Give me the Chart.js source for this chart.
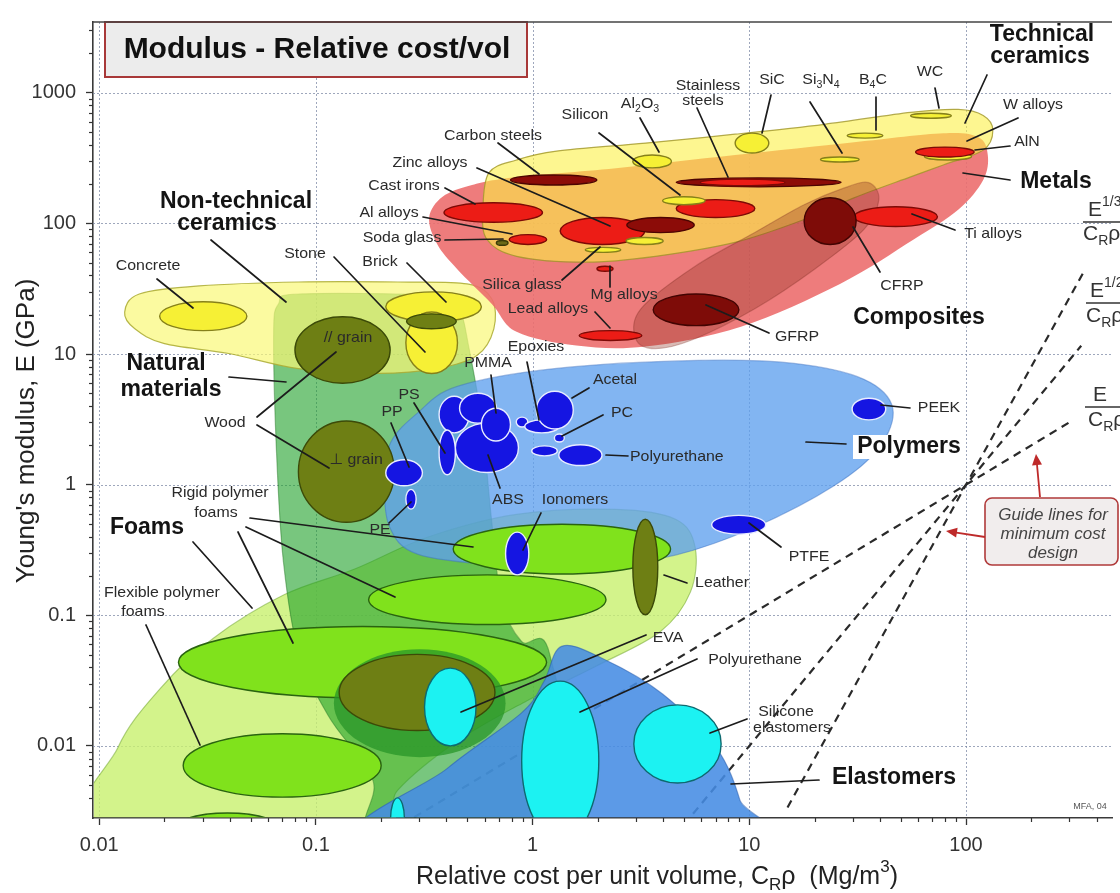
<!DOCTYPE html>
<html>
<head>
<meta charset="utf-8">
<script src="https://cdn.jsdelivr.net/npm/chart.js@4.4.0/dist/chart.umd.min.js"></script>
<style>
  html, body { margin: 0; padding: 0; background: #fff; overflow: hidden; }
  #wrap { width: 1120px; height: 893px; }
</style>
</head>
<body>
<div id="wrap"><canvas id="c" width="1120" height="893"></canvas></div>
<script>
// ---------- axis ranges and tick labels ----------
const costMin = 0.009358, costMax = 471.6;     // relative cost per unit volume
const modMin = 0.002805, modMax = 3483;        // Young's modulus, GPa
const xTickLabels = ['0.01', '0.1', '1', '10', '100'];
const yTickLabels = ['0.01', '0.1', '1', '10', '100', '1000'];

// ---------- material property ranges ----------
const materialNames = [
  'Flexible polymer foam (soft)', 'Flexible polymer foam', 'Rigid polymer foam (low density)',
  'Rigid polymer foam (medium density)', 'Rigid polymer foam (high density)', 'Cork field', 'Cork',
  'EVA', 'Polyurethane elastomer', 'Silicone elastomers', 'Butyl rubber', 'Leather', 'Ionomers',
  'Wood, perpendicular to grain', 'Wood, parallel to grain', 'Concrete', 'Brick', 'Stone', 'Bamboo',
  'PP', 'PE', 'PMMA (cast)', 'PET', 'ABS', 'PMMA', 'PS', 'Polyester', 'Epoxies', 'Acetal', 'PC',
  'Nylon', 'Polyurethane', 'PEEK', 'PTFE',
  'Cast irons', 'Carbon steels', 'Al alloys', 'Soda glass', 'Zinc alloys', 'Brass', 'Glass ceramic',
  'Silica glass', 'Mg alloys', 'Lead alloys', 'Stainless steels', 'Low alloy steels', 'Cu alloys',
  'Silicon', 'Al2O3', 'SiC', 'Si3N4', 'B4C', 'WC', 'AlN', 'W alloys', 'Ti alloys', 'GFRP', 'CFRP'
];
const costLow = [
  0.0213, 0.0244, 0.0232, 0.175, 0.43, 0.121, 0.128,
  0.317, 0.89, 2.93, 0.221, 2.9, 0.75,
  0.083, 0.08, 0.019, 0.21, 0.26, 0.262,
  0.21, 0.26, 0.37, 0.46, 0.44, 0.58, 0.37, 0.84, 0.92, 1.04, 1.26,
  0.99, 1.32, 29.8, 6.7,
  0.39, 0.79, 0.78, 0.68, 1.34, 2.72, 2.7,
  1.75, 1.98, 1.64, 4.6, 5.94, 4.6,
  3.98, 2.9, 8.6, 21.3, 28.3, 55.5, 64.3, 58.5, 30.4, 3.6, 17.9
];
const costHigh = [
  0.0716, 0.20, 1.16, 2.18, 4.33, 0.75, 0.67,
  0.548, 2.02, 7.41, 0.256, 3.78, 0.96,
  0.23, 0.22, 0.048, 0.58, 0.45, 0.444,
  0.31, 0.29, 0.51, 0.68, 0.86, 0.79, 0.44, 0.95, 1.32, 1.54, 1.40,
  1.30, 2.09, 42.6, 11.9,
  1.11, 1.98, 1.16, 0.77, 3.29, 5.57, 4.0,
  2.55, 2.35, 3.19, 26.5, 14.6, 10.6,
  6.25, 4.37, 12.3, 32.1, 41.3, 85.5, 106, 109, 73.8, 8.95, 31.1
];
const modLow = [
  0.0016, 0.00405, 0.0233, 0.085, 0.207, 0.0082, 0.0131,
  0.010, 0.0019, 0.0052, 0.0019, 0.101, 0.204,
  0.515, 5.97, 15.1, 17.7, 7.1, 15.6,
  0.98, 0.65, 2.49, 2.96, 1.24, 2.16, 1.19, 2.76, 2.49, 2.67, 2.12,
  1.66, 1.40, 3.13, 0.418,
  102, 197, 69, 68, 69, 85, 69,
  60, 43, 12.7, 191, 194, 111,
  139, 266, 346, 295, 450, 638, 306, 322, 94.6, 16.5, 69
];
const modHigh = [
  0.00306, 0.0124, 0.082, 0.204, 0.498, 0.055, 0.0502,
  0.0394, 0.0313, 0.0206, 0.0040, 0.543, 0.433,
  3.07, 19.3, 25.1, 29.9, 21.0, 20.3,
  1.55, 0.92, 4.75, 5.01, 2.96, 3.85, 2.62, 3.29, 3.13, 5.19, 2.44,
  1.98, 2.02, 4.59, 0.582,
  144, 235, 82, 74, 111, 111, 78,
  65.6, 47, 15.1, 223, 219, 152,
  160, 334, 491, 322, 491, 697, 346, 384, 134, 28.8, 157
];
const materialFamily = [
  'foam', 'foam', 'foam', 'foam', 'foam', 'field', 'natural',
  'elastomer', 'elastomer', 'elastomer', 'elastomer', 'natural', 'polymer',
  'natural', 'natural', 'ceramic', 'ceramic', 'ceramic', 'natural',
  'polymer', 'polymer', 'polymer', 'polymer', 'polymer', 'polymer', 'polymer', 'polymer', 'polymer', 'polymer', 'polymer',
  'polymer', 'polymer', 'polymer', 'polymer',
  'metal', 'metalDark', 'metal', 'glassDark', 'metal', 'metalDark', 'ceramic',
  'ceramic', 'metal', 'metal', 'metalDark', 'metal', 'metal',
  'ceramic', 'ceramic', 'ceramic', 'ceramic', 'ceramic', 'ceramic', 'ceramic', 'metal', 'metal', 'composite', 'composite'
];

// ---------- family envelopes (cost, modulus) ----------
const foamEnvelope = [[0.00966,0.0022],[0.0122,0.0097],[0.0192,0.0277],[0.0335,0.0665],[0.0716,0.144],[0.151,0.226],
  [0.327,0.396],[0.843,0.592],[2.42,0.646],[4.56,0.543],[5.62,0.333],[5.35,0.151],[3.89,0.0752],[1.96,0.0407],
  [0.938,0.0221],[0.449,0.0109],[0.238,0.00456],[0.174,0.0019]];
const naturalEnvelope = [[0.0638,14.3],[0.0672,24.2],[0.083,28.8],[0.363,27.9],[0.458,22.2],[0.509,11.0],[0.583,2.96],
  [0.648,0.515],[0.72,0.127],[0.889,0.063],[1.2,0.05],[1.45,0.0019],[0.193,0.0019],[0.183,0.00547],
  [0.114,0.017],[0.083,0.053],[0.0708,0.256],[0.0658,1.75]];
const polymerEnvelope = [[0.207,1.03],[0.221,2.09],[0.294,3.53],[0.449,5.65],[1.29,7.76],[5.81,8.93],[16.1,8.47],
  [33.8,6.4],[45.9,3.85],[39.6,1.91],[24.7,0.984],[10.6,0.472],[4.56,0.289],[1.96,0.238],[0.684,0.243],[0.294,0.294],[0.219,0.472]];
const nonTechCeramicEnvelope = [[0.0131,20.9],[0.0153,28.8],[0.0289,33.2],[0.083,35.6],[0.238,35.6],[0.498,34.4],
  [0.648,26.4],[0.662,15.6],[0.553,9.73],[0.363,7.74],[0.193,7.11],[0.083,7.74],[0.0396,10.1],[0.02,12.0],[0.0146,15.6]];
const elastomerEnvelope = [[0.177,0.0019],[0.404,0.00673],[0.889,0.0179],[1.13,0.0313],[1.36,0.0578],[2.09,0.0469],
  [3.98,0.025],[7.03,0.0097],[9.05,0.00384],[9.53,0.0019]];
const metalEnvelope = [[0.333,111],[0.384,160],[0.525,197],[0.843,227],[2.42,265],[8.59,334],[30.4,419],[78.5,491],
  [114,457],[126,334],[120,215],[92,127],[57.3,75.3],[26.2,34.4],[9.14,16.2],[3.32,11.4],[1.59,11.6],[0.843,14.8],
  [0.648,24.2],[0.449,44.6],[0.363,69.2]];
const techCeramicEnvelope = [[0.59,128],[0.628,244],[0.843,306],[1.29,358],[3.32,412],[8.59,482],[22.2,574],[55.5,708],
  [92,746],[120,671],[133,517],[120,364],[78.5,280],[55.5,227],[30.4,157],[17.9,107],[8.59,71.6],[3.69,56],[1.77,50.5],
  [0.843,56],[0.615,75.5]];
const compositeEnvelope = [[2.99,13.1],[3.16,22.2],[5.62,47],[10.6,85.3],[17.9,139],[27.4,187],[35.6,205],[39.6,152],
  [33.8,89.9],[20,44.6],[10.6,22.2],[5.62,13.1],[3.69,11.0]];

// ---------- guide lines for minimum cost design (E/CRρ, E^1/2/CRρ, E^1/3/CRρ constant) ----------
const guideCostE1 = [0.25, 300];   const guideModE1 = [0.0025, 3.0];
const guideCostE2 = [5, 340];      const guideModE2 = [0.0025, 11.56];
const guideCostE3 = [15, 355];     const guideModE3 = [0.003375, 44.74];

// ---------- annotation text ----------
const materialLabels = [
  ['Carbon steels',493,136], ['Zinc alloys',430,163], ['Cast irons',404,186], ['Al alloys',389,213],
  ['Soda glass',402,238], ['Stone',305,254], ['Brick',380,262], ['Concrete',148,266], ['Silica glass',522,285],
  ['Mg alloys',624,295], ['Lead alloys',548,309], ['Silicon',585,115], ['Al_{2}O_{3}',640,104],
  ['Stainless',708,86], ['steels',703,101], ['SiC',772,80], ['Si_{3}N_{4}',821,80], ['B_{4}C',873,80],
  ['WC',930,72], ['W alloys',1033,105], ['AlN',1027,142], ['Ti alloys',993,234], ['CFRP',902,286],
  ['GFRP',797,337], ['// grain',348,338], ['\u22a5 grain',356,460], ['Wood',225,423], ['PMMA',488,363],
  ['Epoxies',536,347], ['PS',409,395], ['PP',392,412], ['Acetal',615,380], ['PC',622,413],
  ['Polyurethane',630,457,'left'], ['ABS',508,500], ['Ionomers',575,500], ['PE',380,530], ['PEEK',939,408],
  ['PTFE',809,557], ['Leather',722,583], ['Rigid polymer',220,493], ['foams',216,513],
  ['Flexible polymer',162,593], ['foams',143,612], ['EVA',668,638], ['Polyurethane',755,660],
  ['Silicone',786,712], ['elastomers',792,728]
];
const familyLabels = [
  ['Technical',1042,35], ['ceramics',1040,57], ['Non-technical',236,202], ['ceramics',227,224],
  ['Natural',166,364], ['materials',171,390], ['Metals',1056,182], ['Composites',919,318],
  ['Polymers',909,447], ['Foams',147,528], ['Elastomers',894,778]
];
const leaderLines = [
  [498,143,539,174],[477,168,610,226],[445,188,475,204],[423,217,512,234],[445,240,503,239],
  [334,257,425,352],[407,263,446,302],[157,279,193,308],[211,240,286,302],[562,280,600,247],
  [610,287,610,266],[595,312,610,328],[599,133,680,195],[640,118,659,152],[697,108,728,177],
  [771,95,762,133],[810,102,842,153],[876,97,876,130],[935,88,939,108],[987,75,965,123],
  [1018,118,967,141],[1010,146,975,150],[1010,180,963,173],[955,230,912,214],[880,272,853,227],
  [769,333,706,305],[257,417,336,352],[257,425,329,468],[229,377,286,382],[491,375,496,413],
  [527,362,539,420],[414,403,445,453],[391,423,409,467],[500,488,488,455],[389,523,411,502],
  [541,513,523,550],[589,388,572,398],[603,415,562,436],[606,455,628,456],[806,442,846,444],
  [881,405,910,408],[749,523,781,547],[664,575,687,583],[250,518,473,547],[246,527,395,597],
  [238,532,293,643],[193,542,252,608],[146,625,200,745],[646,635,461,712],[697,659,580,712],
  [747,719,710,733],[731,784,819,780]
];

// ---------- styles ----------
const FONT = '"Liberation Sans", Arial, Helvetica, "DejaVu Sans", sans-serif';
const envelopeStyle = {
  foam:      { fill: 'rgba(200,240,110,0.80)', stroke: 'rgba(120,170,60,0.55)' },
  natural:   { fill: 'rgba(30,160,40,0.60)',   stroke: 'rgba(40,120,40,0.45)' },
  polymer:   { fill: 'rgba(95,160,238,0.78)',  stroke: 'rgba(60,110,190,0.45)' },
  nontech:   { fill: 'rgba(250,248,120,0.70)', stroke: 'rgba(170,170,50,0.85)' },
  elastomer: { fill: 'rgba(70,140,228,0.88)',  stroke: 'rgba(40,90,170,0.5)' },
  metal:     { fill: 'rgba(236,110,110,0.90)', stroke: null },
  tech:      { fill: 'rgba(252,240,70,0.60)',  stroke: 'rgba(160,150,40,0.8)' },
  composite: { fill: 'rgba(140,45,30,0.33)',   stroke: 'rgba(120,40,30,0.3)' }
};
const envelopeLayers = [
  [foamEnvelope, 'foam'], [naturalEnvelope, 'natural'], [polymerEnvelope, 'polymer'],
  [nonTechCeramicEnvelope, 'nontech'], [elastomerEnvelope, 'elastomer'], [metalEnvelope, 'metal'],
  [techCeramicEnvelope, 'tech'], [compositeEnvelope, 'composite']
];
const familyStyle = {
  metal:     ['#ec1c16', '#7c0a06'],
  metalDark: ['#8c0c08', '#4c0402'],
  ceramic:   ['#f6f035', '#86801a'],
  glassDark: ['#6a6a18', '#3a3a08'],
  natural:   ['#6e7f14', '#3c4a08'],
  field:     ['rgba(40,150,40,0.75)', null],
  polymer:   ['#1515e2', '#e8ecff'],
  foam:      ['#80e21c', '#2a6410'],
  elastomer: ['#1cf2f2', '#0e6a70'],
  composite: ['#7e0c08', '#420402']
};

// ---------- helpers ----------
function isDecade(v) { const l = Math.log10(v); return Math.abs(l - Math.round(l)) < 1e-6; }
function isNice(v) {
  const e = Math.floor(Math.log10(v) + 1e-9); const m = v / Math.pow(10, e);
  return Math.abs(m - Math.round(m)) < 1e-6;
}
function labelFor(list, v) {
  for (const l of list) if (Math.abs(Number(l) / v - 1) < 1e-6) return l;
  return '';
}
function smoothClosed(ctx, pts) {
  const n = pts.length;
  ctx.moveTo(pts[0][0], pts[0][1]);
  for (let i = 0; i < n; i++) {
    const p0 = pts[(i - 1 + n) % n], p1 = pts[i], p2 = pts[(i + 1) % n], p3 = pts[(i + 2) % n];
    ctx.bezierCurveTo(p1[0] + (p2[0] - p0[0]) / 6, p1[1] + (p2[1] - p0[1]) / 6,
                      p2[0] - (p3[0] - p1[0]) / 6, p2[1] - (p3[1] - p1[1]) / 6, p2[0], p2[1]);
  }
  ctx.closePath();
}
function parseRich(s) {
  const parts = []; const re = /_\{([^}]*)\}|\^\{([^}]*)\}|([^_^]+)/g; let m;
  while ((m = re.exec(s))) {
    if (m[1] !== undefined) parts.push([m[1], 'sub']);
    else if (m[2] !== undefined) parts.push([m[2], 'sup']);
    else parts.push([m[3], '']);
  }
  return parts;
}
function drawRich(ctx, s, x, y, opt) {
  const parts = parseRich(s);
  const fontFor = mode => `${opt.style || 'normal'} ${opt.weight || 'normal'} ${mode ? Math.round(opt.size * 0.68) : opt.size}px ${FONT}`;
  let w = 0;
  for (const [t, m] of parts) { ctx.font = fontFor(m); w += ctx.measureText(t).width; }
  const st = opt.stretch || 1;
  ctx.save();
  ctx.translate(x, y); ctx.scale(st, 1);
  let cx = opt.align === 'left' ? 0 : opt.align === 'right' ? -w : -w / 2;
  ctx.textBaseline = 'middle'; ctx.textAlign = 'left'; ctx.fillStyle = opt.color || '#222';
  for (const [t, m] of parts) {
    ctx.font = fontFor(m);
    const dy = m === 'sub' ? opt.size * 0.32 : m === 'sup' ? -opt.size * 0.38 : 0;
    ctx.fillText(t, cx, dy);
    cx += ctx.measureText(t).width;
  }
  ctx.restore();
  return w * st;
}
function arrow(ctx, x1, y1, x2, y2) {
  const ang = Math.atan2(y2 - y1, x2 - x1), L = 11, W = 5;
  ctx.beginPath(); ctx.moveTo(x1, y1); ctx.lineTo(x2 - Math.cos(ang) * L * 0.8, y2 - Math.sin(ang) * L * 0.8); ctx.stroke();
  ctx.beginPath();
  ctx.moveTo(x2, y2);
  ctx.lineTo(x2 - Math.cos(ang) * L + Math.sin(ang) * W, y2 - Math.sin(ang) * L - Math.cos(ang) * W);
  ctx.lineTo(x2 - Math.cos(ang) * L - Math.sin(ang) * W, y2 - Math.sin(ang) * L + Math.cos(ang) * W);
  ctx.closePath(); ctx.fill();
}
function fraction(ctx, num, den, xNum, yNum, xBar1, xBar2, yBar, xDen, yDen) {
  drawRich(ctx, num, xNum, yNum, { size: 21, align: 'left', color: '#333' });
  ctx.save(); ctx.strokeStyle = '#333'; ctx.lineWidth = 1.5;
  ctx.beginPath(); ctx.moveTo(xBar1, yBar); ctx.lineTo(xBar2, yBar); ctx.stroke(); ctx.restore();
  drawRich(ctx, den, xDen, yDen, { size: 21, align: 'left', color: '#333' });
}

// ---------- drawing plugin ----------
const ashbyPlugin = {
  id: 'ashbyChart',
  beforeDatasetsDraw(chart) {
    const { ctx, chartArea: a, scales: { x, y } } = chart;
    ctx.save();
    ctx.strokeStyle = 'rgba(125,138,165,0.75)';
    ctx.lineWidth = 1;
    ctx.setLineDash([2, 2]);
    xTickLabels.forEach(l => {
      const p = Math.round(x.getPixelForValue(Number(l))) + 0.5;
      ctx.beginPath(); ctx.moveTo(p, a.top); ctx.lineTo(p, a.bottom); ctx.stroke();
    });
    yTickLabels.forEach(l => {
      const p = Math.round(y.getPixelForValue(Number(l))) + 0.5;
      ctx.beginPath(); ctx.moveTo(a.left, p); ctx.lineTo(a.right, p); ctx.stroke();
    });
    ctx.restore();
  },
  afterDatasetsDraw(chart) {
    const { ctx, chartArea: a, scales: { x, y } } = chart;
    const X = v => x.getPixelForValue(v), Y = v => y.getPixelForValue(v);

    ctx.save();
    ctx.beginPath(); ctx.rect(a.left + 0.8, a.top, a.right - a.left, a.bottom - a.top - 0.8); ctx.clip();

    // family envelopes
    envelopeLayers.forEach(([pts, key]) => {
      const st = envelopeStyle[key];
      ctx.beginPath();
      smoothClosed(ctx, pts.map(p => [X(p[0]), Y(p[1])]));
      ctx.fillStyle = st.fill; ctx.fill();
      if (st.stroke) { ctx.lineWidth = 1.2; ctx.strokeStyle = st.stroke; ctx.stroke(); }
    });

    // material property ellipses
    materialNames.forEach((name, i) => {
      const x1 = X(costLow[i]), x2 = X(costHigh[i]), y1 = Y(modHigh[i]), y2 = Y(modLow[i]);
      const [fill, stroke] = familyStyle[materialFamily[i]];
      ctx.beginPath();
      ctx.ellipse((x1 + x2) / 2, (y1 + y2) / 2, (x2 - x1) / 2, (y2 - y1) / 2, 0, 0, Math.PI * 2);
      ctx.fillStyle = fill; ctx.fill();
      if (stroke) { ctx.lineWidth = 1.4; ctx.strokeStyle = stroke; ctx.stroke(); }
    });
    ctx.restore();

    // leader lines
    ctx.save();
    ctx.strokeStyle = '#1c1c1c'; ctx.lineWidth = 1.7; ctx.lineCap = 'round';
    leaderLines.forEach(([x1, y1, x2, y2]) => { ctx.beginPath(); ctx.moveTo(x1, y1); ctx.lineTo(x2, y2); ctx.stroke(); });
    ctx.restore();

    // white patch behind the polymer family name
    ctx.fillStyle = '#ffffff';
    ctx.fillRect(853, 435, 112, 24);

    // labels
    materialLabels.forEach(([t, lx, ly, al]) => drawRich(ctx, t, lx, ly, { size: 15, align: al || 'center', color: '#2a2a2a', stretch: 1.06 }));
    familyLabels.forEach(([t, lx, ly]) => drawRich(ctx, t, lx, ly, { size: 23, weight: 'bold', align: 'center', color: '#141414' }));
    drawRich(ctx, 'MFA, 04', 1090, 807, { size: 9, align: 'center', color: '#555' });

    // guide-line labels
    fraction(ctx, 'E^{1/3}', 'C_{R}\u03c1', 1088, 210, 1083, 1125, 222, 1083, 234);
    fraction(ctx, 'E^{1/2}', 'C_{R}\u03c1', 1090, 291, 1086, 1125, 303, 1086, 316);
    fraction(ctx, 'E', 'C_{R}\u03c1', 1093, 395, 1085, 1125, 407, 1088, 420);

    // guide-line note with arrows
    ctx.save();
    ctx.fillStyle = '#f1eded'; ctx.strokeStyle = '#b03a3a'; ctx.lineWidth = 1.6;
    ctx.beginPath(); ctx.roundRect(985, 498, 133, 67, 7); ctx.fill(); ctx.stroke();
    ctx.strokeStyle = '#be2a2a'; ctx.fillStyle = '#be2a2a'; ctx.lineWidth = 1.8;
    arrow(ctx, 1040, 497, 1036, 454);
    arrow(ctx, 985, 537, 946, 531);
    ctx.restore();
    ['Guide lines for', 'minimum cost', 'design'].forEach((t, k) =>
      drawRich(ctx, t, 1053, 515 + k * 19, { size: 17, style: 'italic', align: 'center', color: '#444' }));

    // chart title box
    ctx.save();
    ctx.fillStyle = '#ececec'; ctx.fillRect(105, 22, 422, 55);
    ctx.strokeStyle = '#a83838'; ctx.lineWidth = 2; ctx.strokeRect(105, 22, 422, 55);
    ctx.restore();
    drawRich(ctx, 'Modulus - Relative cost/vol', 317, 50, { size: 30, weight: 'bold', align: 'center', color: '#111' });
  },
  afterDraw(chart) {
    const { ctx, chartArea: a, scales: { x, y } } = chart;
    ctx.save();
    // top frame line
    ctx.strokeStyle = '#444'; ctx.lineWidth = 1.5;
    ctx.beginPath(); ctx.moveTo(a.left, a.top); ctx.lineTo(a.right, a.top); ctx.stroke();
    // short minor tick marks
    ctx.lineWidth = 1.2; ctx.strokeStyle = '#333';
    x.ticks.forEach(t => {
      if (isNice(t.value) && !isDecade(t.value)) {
        const p = Math.round(x.getPixelForValue(t.value)) + 0.5;
        ctx.beginPath(); ctx.moveTo(p, a.bottom); ctx.lineTo(p, a.bottom + 4); ctx.stroke();
      }
    });
    y.ticks.forEach(t => {
      if (isNice(t.value) && !isDecade(t.value)) {
        const p = Math.round(y.getPixelForValue(t.value)) + 0.5;
        ctx.beginPath(); ctx.moveTo(a.left, p); ctx.lineTo(a.left - 4, p); ctx.stroke();
      }
    });
    ctx.restore();
    // axis titles
    drawRich(ctx, 'Relative cost per unit volume, C_{R}\u03c1  (Mg/m^{3})', 657, 877, { size: 25, align: 'center', color: '#222' });
    ctx.save();
    ctx.translate(27, 431); ctx.rotate(-Math.PI / 2);
    drawRich(ctx, "Young's modulus, E (GPa)", 0, 0, { size: 26, align: 'center', color: '#222' });
    ctx.restore();
  }
};

// ---------- chart ----------
const guideStyle = { showLine: true, pointRadius: 0, borderColor: '#2a2a2a', borderWidth: 2.2, borderDash: [8, 6], fill: false };
const toPoints = (cs, ms) => cs.map((c, i) => ({ x: c, y: ms[i] }));
const tickColor = ctx => (ctx.tick && isDecade(ctx.tick.value)) ? '#333' : 'rgba(0,0,0,0)';

new Chart(document.getElementById('c'), {
  type: 'scatter',
  data: {
    datasets: [
      Object.assign({ label: 'E / CR\u03c1', data: toPoints(guideCostE1, guideModE1) }, guideStyle),
      Object.assign({ label: 'E^1/2 / CR\u03c1', data: toPoints(guideCostE2, guideModE2) }, guideStyle),
      Object.assign({ label: 'E^1/3 / CR\u03c1', data: toPoints(guideCostE3, guideModE3) }, guideStyle)
    ]
  },
  options: {
    responsive: false,
    animation: false,
    devicePixelRatio: 1,
    layout: { padding: { top: 16, right: 0, left: 0, bottom: 0 } },
    plugins: { legend: { display: false }, tooltip: { enabled: false } },
    scales: {
      x: {
        type: 'logarithmic', position: 'bottom', min: costMin, max: costMax,
        afterFit: s => { s.height = 75; },
        grid: { drawOnChartArea: false, drawTicks: true, tickLength: 7, tickColor: tickColor, tickWidth: 1.3 },
        border: { display: true, color: '#3a3a3a', width: 1.6 },
        ticks: { autoSkip: false, maxRotation: 0, minRotation: 0, padding: 8, color: '#333',
                 font: { size: 20, family: FONT }, callback: v => labelFor(xTickLabels, v) }
      },
      y: {
        type: 'logarithmic', position: 'left', min: modMin, max: modMax,
        afterFit: s => { s.width = 93; },
        grid: { drawOnChartArea: false, drawTicks: true, tickLength: 7, tickColor: tickColor, tickWidth: 1.3 },
        border: { display: true, color: '#3a3a3a', width: 1.6 },
        ticks: { autoSkip: false, padding: 10, color: '#333',
                 font: { size: 20, family: FONT }, callback: v => labelFor(yTickLabels, v) }
      }
    }
  },
  plugins: [ashbyPlugin]
});
</script>
</body>
</html>
